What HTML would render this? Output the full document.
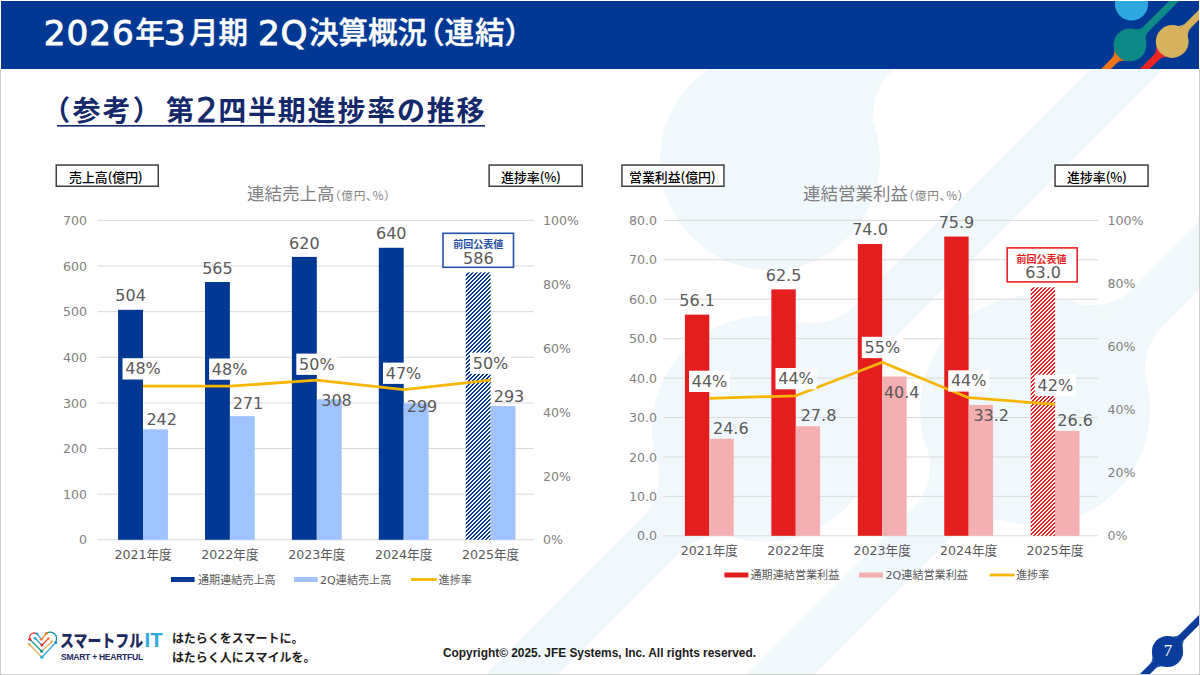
<!DOCTYPE html>
<html lang="ja"><head><meta charset="utf-8"><title>2026年3月期 2Q決算概況（連結）</title>
<style>
html,body{margin:0;padding:0;background:#fff;}
body{width:1200px;height:675px;position:relative;overflow:hidden;}
svg{position:absolute;left:0;top:0;display:block;}
</style></head><body>
<svg width="1200" height="675" viewBox="0 0 1200 675">
<defs>
<pattern id="hb" patternUnits="userSpaceOnUse" x="0" y="0" width="4" height="4"><rect width="4" height="4" fill="#fff"/><g fill="#003894" shape-rendering="crispEdges"><rect x="0" y="0" width="1" height="1"/><rect x="1" y="0" width="1" height="1"/><rect x="0" y="1" width="1" height="1"/><rect x="3" y="1" width="1" height="1"/><rect x="2" y="2" width="1" height="1"/><rect x="3" y="2" width="1" height="1"/><rect x="1" y="3" width="1" height="1"/><rect x="2" y="3" width="1" height="1"/></g></pattern>
<pattern id="hr" patternUnits="userSpaceOnUse" x="0" y="0" width="4" height="4"><rect width="4" height="4" fill="#fff"/><g fill="#E41E1E" shape-rendering="crispEdges"><rect x="0" y="0" width="1" height="1"/><rect x="1" y="0" width="1" height="1"/><rect x="0" y="1" width="1" height="1"/><rect x="3" y="1" width="1" height="1"/><rect x="2" y="2" width="1" height="1"/><rect x="3" y="2" width="1" height="1"/><rect x="1" y="3" width="1" height="1"/><rect x="2" y="3" width="1" height="1"/></g></pattern>
<clipPath id="hc"><rect x="1" y="1" width="1198" height="68"/></clipPath>
</defs>
<g fill="#F0F8FC"><polygon points="1091,69 1163,69 557,675 485,675"/><polygon points="1352,69 1420,69 814,675 746,675"/><polygon points="828,69 894,69 803,160 737,160"/><circle cx="770" cy="160" r="110"/><circle cx="765" cy="429" r="113"/><circle cx="1035" cy="410" r="115"/><path d="M879.9,155.9 Q862.5,100.5 889.1,73.9 L862.5,100.5 Z"/><path d="M774.1,50.1 Q829.5,67.5 856.1,40.9 L829.5,67.5 Z"/><path d="M877.9,425.5 Q861.6,370.4 888.8,343.2 L861.6,370.4 Z"/><path d="M769.2,316.1 Q826.1,333.9 853.4,306.6 L826.1,333.9 Z"/><path d="M761.5,541.9 Q706.4,525.6 679.2,552.8 L706.4,525.6 Z"/><path d="M652.1,433.2 Q669.9,490.1 642.6,517.4 L669.9,490.1 Z"/><path d="M1150.0,407.5 Q1135.3,353.7 1162.7,326.3 L1135.3,353.7 Z"/><path d="M1040.8,295.1 Q1103.4,317.6 1131.6,289.4 L1103.4,317.6 Z"/><path d="M1032.5,525.0 Q978.7,510.3 951.3,537.7 L978.7,510.3 Z"/><path d="M920.1,415.8 Q942.6,478.4 914.4,506.6 L942.6,478.4 Z"/></g><rect x="97.5" y="539.30" width="436.4" height="1" fill="#DADADA"/><text x="87.00" y="544.40" font-size="12.6" fill="#7F7F7F" font-family='"DejaVu Sans", "Noto Sans CJK JP", sans-serif' text-anchor="end" font-weight="normal">0</text><rect x="97.5" y="493.67" width="436.4" height="1" fill="#DADADA"/><text x="87.00" y="498.77" font-size="12.6" fill="#7F7F7F" font-family='"DejaVu Sans", "Noto Sans CJK JP", sans-serif' text-anchor="end" font-weight="normal">100</text><rect x="97.5" y="448.04" width="436.4" height="1" fill="#DADADA"/><text x="87.00" y="453.14" font-size="12.6" fill="#7F7F7F" font-family='"DejaVu Sans", "Noto Sans CJK JP", sans-serif' text-anchor="end" font-weight="normal">200</text><rect x="97.5" y="402.41" width="436.4" height="1" fill="#DADADA"/><text x="87.00" y="407.51" font-size="12.6" fill="#7F7F7F" font-family='"DejaVu Sans", "Noto Sans CJK JP", sans-serif' text-anchor="end" font-weight="normal">300</text><rect x="97.5" y="356.79" width="436.4" height="1" fill="#DADADA"/><text x="87.00" y="361.89" font-size="12.6" fill="#7F7F7F" font-family='"DejaVu Sans", "Noto Sans CJK JP", sans-serif' text-anchor="end" font-weight="normal">400</text><rect x="97.5" y="311.16" width="436.4" height="1" fill="#DADADA"/><text x="87.00" y="316.26" font-size="12.6" fill="#7F7F7F" font-family='"DejaVu Sans", "Noto Sans CJK JP", sans-serif' text-anchor="end" font-weight="normal">500</text><rect x="97.5" y="265.53" width="436.4" height="1" fill="#DADADA"/><text x="87.00" y="270.63" font-size="12.6" fill="#7F7F7F" font-family='"DejaVu Sans", "Noto Sans CJK JP", sans-serif' text-anchor="end" font-weight="normal">600</text><rect x="97.5" y="219.90" width="436.4" height="1" fill="#DADADA"/><text x="87.00" y="225.00" font-size="12.6" fill="#7F7F7F" font-family='"DejaVu Sans", "Noto Sans CJK JP", sans-serif' text-anchor="end" font-weight="normal">700</text><text x="543.00" y="544.40" font-size="12.6" fill="#7F7F7F" font-family='"DejaVu Sans", "Noto Sans CJK JP", sans-serif' text-anchor="start" font-weight="normal">0%</text><text x="543.00" y="480.52" font-size="12.6" fill="#7F7F7F" font-family='"DejaVu Sans", "Noto Sans CJK JP", sans-serif' text-anchor="start" font-weight="normal">20%</text><text x="543.00" y="416.64" font-size="12.6" fill="#7F7F7F" font-family='"DejaVu Sans", "Noto Sans CJK JP", sans-serif' text-anchor="start" font-weight="normal">40%</text><text x="543.00" y="352.76" font-size="12.6" fill="#7F7F7F" font-family='"DejaVu Sans", "Noto Sans CJK JP", sans-serif' text-anchor="start" font-weight="normal">60%</text><text x="543.00" y="288.88" font-size="12.6" fill="#7F7F7F" font-family='"DejaVu Sans", "Noto Sans CJK JP", sans-serif' text-anchor="start" font-weight="normal">80%</text><text x="543.00" y="225.00" font-size="12.6" fill="#7F7F7F" font-family='"DejaVu Sans", "Noto Sans CJK JP", sans-serif' text-anchor="start" font-weight="normal">100%</text><rect x="118.10" y="309.83" width="24.90" height="229.97" fill="#003894"/><rect x="143.00" y="429.38" width="24.90" height="110.42" fill="#9EC3FF"/><rect x="205.00" y="282.00" width="24.90" height="257.80" fill="#003894"/><rect x="229.90" y="416.15" width="24.90" height="123.65" fill="#9EC3FF"/><rect x="291.90" y="256.90" width="24.90" height="282.90" fill="#003894"/><rect x="316.80" y="399.26" width="24.90" height="140.54" fill="#9EC3FF"/><rect x="378.80" y="247.78" width="24.90" height="292.02" fill="#003894"/><rect x="403.70" y="403.37" width="24.90" height="136.43" fill="#9EC3FF"/><rect x="465.70" y="272.42" width="24.90" height="267.38" fill="url(#hb)"/><rect x="490.60" y="406.11" width="24.90" height="133.69" fill="#9EC3FF"/><polyline points="143.0,386.2 229.9,386.2 316.8,380.1 403.7,389.7 490.6,380.1" fill="none" stroke="#F7B500" stroke-width="2.8" stroke-linejoin="round"/><text x="130.55" y="301.43" font-size="16" fill="#595959" font-family='"DejaVu Sans", "Noto Sans CJK JP", sans-serif' text-anchor="middle" font-weight="normal">504</text><text x="217.45" y="273.60" font-size="16" fill="#595959" font-family='"DejaVu Sans", "Noto Sans CJK JP", sans-serif' text-anchor="middle" font-weight="normal">565</text><text x="304.35" y="248.50" font-size="16" fill="#595959" font-family='"DejaVu Sans", "Noto Sans CJK JP", sans-serif' text-anchor="middle" font-weight="normal">620</text><text x="391.25" y="239.38" font-size="16" fill="#595959" font-family='"DejaVu Sans", "Noto Sans CJK JP", sans-serif' text-anchor="middle" font-weight="normal">640</text><text x="161.70" y="424.70" font-size="16" fill="#595959" font-family='"DejaVu Sans", "Noto Sans CJK JP", sans-serif' text-anchor="middle" font-weight="normal">242</text><text x="247.90" y="409.20" font-size="16" fill="#595959" font-family='"DejaVu Sans", "Noto Sans CJK JP", sans-serif' text-anchor="middle" font-weight="normal">271</text><text x="336.50" y="406.40" font-size="16" fill="#595959" font-family='"DejaVu Sans", "Noto Sans CJK JP", sans-serif' text-anchor="middle" font-weight="normal">308</text><text x="422.00" y="412.00" font-size="16" fill="#595959" font-family='"DejaVu Sans", "Noto Sans CJK JP", sans-serif' text-anchor="middle" font-weight="normal">299</text><text x="509.00" y="402.40" font-size="16" fill="#595959" font-family='"DejaVu Sans", "Noto Sans CJK JP", sans-serif' text-anchor="middle" font-weight="normal">293</text><rect x="122.5" y="358.2" width="41" height="21.3" fill="#fff"/><text x="143.00" y="374.20" font-size="16" fill="#595959" font-family='"DejaVu Sans", "Noto Sans CJK JP", sans-serif' text-anchor="middle" font-weight="normal">48%</text><rect x="209.1" y="358.5" width="41" height="21.3" fill="#fff"/><text x="229.60" y="374.50" font-size="16" fill="#595959" font-family='"DejaVu Sans", "Noto Sans CJK JP", sans-serif' text-anchor="middle" font-weight="normal">48%</text><rect x="296.3" y="353.6" width="41" height="21.3" fill="#fff"/><text x="316.80" y="369.60" font-size="16" fill="#595959" font-family='"DejaVu Sans", "Noto Sans CJK JP", sans-serif' text-anchor="middle" font-weight="normal">50%</text><rect x="383.0" y="362.6" width="41" height="21.3" fill="#fff"/><text x="403.50" y="378.60" font-size="16" fill="#595959" font-family='"DejaVu Sans", "Noto Sans CJK JP", sans-serif' text-anchor="middle" font-weight="normal">47%</text><rect x="470.0" y="352.6" width="41" height="21.3" fill="#fff"/><text x="490.50" y="368.60" font-size="16" fill="#595959" font-family='"DejaVu Sans", "Noto Sans CJK JP", sans-serif' text-anchor="middle" font-weight="normal">50%</text><text x="143.00" y="559.10" font-size="12.6" fill="#595959" font-family='"DejaVu Sans", "Noto Sans CJK JP", sans-serif' text-anchor="middle" font-weight="normal">2021年度</text><text x="229.90" y="559.10" font-size="12.6" fill="#595959" font-family='"DejaVu Sans", "Noto Sans CJK JP", sans-serif' text-anchor="middle" font-weight="normal">2022年度</text><text x="316.80" y="559.10" font-size="12.6" fill="#595959" font-family='"DejaVu Sans", "Noto Sans CJK JP", sans-serif' text-anchor="middle" font-weight="normal">2023年度</text><text x="403.70" y="559.10" font-size="12.6" fill="#595959" font-family='"DejaVu Sans", "Noto Sans CJK JP", sans-serif' text-anchor="middle" font-weight="normal">2024年度</text><text x="490.60" y="559.10" font-size="12.6" fill="#595959" font-family='"DejaVu Sans", "Noto Sans CJK JP", sans-serif' text-anchor="middle" font-weight="normal">2025年度</text><rect x="663.5" y="535.30" width="434.8" height="1" fill="#DADADA"/><text x="657.00" y="540.40" font-size="12.6" fill="#7F7F7F" font-family='"DejaVu Sans", "Noto Sans CJK JP", sans-serif' text-anchor="end" font-weight="normal">0.0</text><rect x="663.5" y="495.87" width="434.8" height="1" fill="#DADADA"/><text x="657.00" y="500.97" font-size="12.6" fill="#7F7F7F" font-family='"DejaVu Sans", "Noto Sans CJK JP", sans-serif' text-anchor="end" font-weight="normal">10.0</text><rect x="663.5" y="456.45" width="434.8" height="1" fill="#DADADA"/><text x="657.00" y="461.55" font-size="12.6" fill="#7F7F7F" font-family='"DejaVu Sans", "Noto Sans CJK JP", sans-serif' text-anchor="end" font-weight="normal">20.0</text><rect x="663.5" y="417.02" width="434.8" height="1" fill="#DADADA"/><text x="657.00" y="422.12" font-size="12.6" fill="#7F7F7F" font-family='"DejaVu Sans", "Noto Sans CJK JP", sans-serif' text-anchor="end" font-weight="normal">30.0</text><rect x="663.5" y="377.60" width="434.8" height="1" fill="#DADADA"/><text x="657.00" y="382.70" font-size="12.6" fill="#7F7F7F" font-family='"DejaVu Sans", "Noto Sans CJK JP", sans-serif' text-anchor="end" font-weight="normal">40.0</text><rect x="663.5" y="338.17" width="434.8" height="1" fill="#DADADA"/><text x="657.00" y="343.27" font-size="12.6" fill="#7F7F7F" font-family='"DejaVu Sans", "Noto Sans CJK JP", sans-serif' text-anchor="end" font-weight="normal">50.0</text><rect x="663.5" y="298.75" width="434.8" height="1" fill="#DADADA"/><text x="657.00" y="303.85" font-size="12.6" fill="#7F7F7F" font-family='"DejaVu Sans", "Noto Sans CJK JP", sans-serif' text-anchor="end" font-weight="normal">60.0</text><rect x="663.5" y="259.32" width="434.8" height="1" fill="#DADADA"/><text x="657.00" y="264.43" font-size="12.6" fill="#7F7F7F" font-family='"DejaVu Sans", "Noto Sans CJK JP", sans-serif' text-anchor="end" font-weight="normal">70.0</text><rect x="663.5" y="219.90" width="434.8" height="1" fill="#DADADA"/><text x="657.00" y="225.00" font-size="12.6" fill="#7F7F7F" font-family='"DejaVu Sans", "Noto Sans CJK JP", sans-serif' text-anchor="end" font-weight="normal">80.0</text><text x="1107.50" y="540.40" font-size="12.6" fill="#7F7F7F" font-family='"DejaVu Sans", "Noto Sans CJK JP", sans-serif' text-anchor="start" font-weight="normal">0%</text><text x="1107.50" y="477.32" font-size="12.6" fill="#7F7F7F" font-family='"DejaVu Sans", "Noto Sans CJK JP", sans-serif' text-anchor="start" font-weight="normal">20%</text><text x="1107.50" y="414.24" font-size="12.6" fill="#7F7F7F" font-family='"DejaVu Sans", "Noto Sans CJK JP", sans-serif' text-anchor="start" font-weight="normal">40%</text><text x="1107.50" y="351.16" font-size="12.6" fill="#7F7F7F" font-family='"DejaVu Sans", "Noto Sans CJK JP", sans-serif' text-anchor="start" font-weight="normal">60%</text><text x="1107.50" y="288.08" font-size="12.6" fill="#7F7F7F" font-family='"DejaVu Sans", "Noto Sans CJK JP", sans-serif' text-anchor="start" font-weight="normal">80%</text><text x="1107.50" y="225.00" font-size="12.6" fill="#7F7F7F" font-family='"DejaVu Sans", "Noto Sans CJK JP", sans-serif' text-anchor="start" font-weight="normal">100%</text><rect x="684.90" y="314.63" width="24.40" height="221.17" fill="#E41E1E"/><rect x="709.30" y="438.81" width="24.40" height="96.99" fill="#F4B0B0"/><rect x="771.35" y="289.39" width="24.40" height="246.41" fill="#E41E1E"/><rect x="795.75" y="426.20" width="24.40" height="109.60" fill="#F4B0B0"/><rect x="857.80" y="244.05" width="24.40" height="291.75" fill="#E41E1E"/><rect x="882.20" y="376.52" width="24.40" height="159.28" fill="#F4B0B0"/><rect x="944.25" y="236.56" width="24.40" height="299.24" fill="#E41E1E"/><rect x="968.65" y="404.91" width="24.40" height="130.89" fill="#F4B0B0"/><rect x="1030.70" y="287.42" width="24.40" height="248.38" fill="url(#hr)"/><rect x="1055.10" y="430.93" width="24.40" height="104.87" fill="#F4B0B0"/><polyline points="709.3,398.3 795.8,395.8 882.2,362.3 968.6,397.7 1055.1,404.3" fill="none" stroke="#F7B500" stroke-width="2.8" stroke-linejoin="round"/><text x="697.10" y="305.83" font-size="16" fill="#595959" font-family='"DejaVu Sans", "Noto Sans CJK JP", sans-serif' text-anchor="middle" font-weight="normal">56.1</text><text x="783.55" y="280.59" font-size="16" fill="#595959" font-family='"DejaVu Sans", "Noto Sans CJK JP", sans-serif' text-anchor="middle" font-weight="normal">62.5</text><text x="870.00" y="235.25" font-size="16" fill="#595959" font-family='"DejaVu Sans", "Noto Sans CJK JP", sans-serif' text-anchor="middle" font-weight="normal">74.0</text><text x="956.45" y="227.76" font-size="16" fill="#595959" font-family='"DejaVu Sans", "Noto Sans CJK JP", sans-serif' text-anchor="middle" font-weight="normal">75.9</text><text x="730.80" y="433.50" font-size="16" fill="#595959" font-family='"DejaVu Sans", "Noto Sans CJK JP", sans-serif' text-anchor="middle" font-weight="normal">24.6</text><text x="818.50" y="420.70" font-size="16" fill="#595959" font-family='"DejaVu Sans", "Noto Sans CJK JP", sans-serif' text-anchor="middle" font-weight="normal">27.8</text><text x="901.70" y="398.30" font-size="16" fill="#595959" font-family='"DejaVu Sans", "Noto Sans CJK JP", sans-serif' text-anchor="middle" font-weight="normal">40.4</text><text x="991.20" y="420.60" font-size="16" fill="#595959" font-family='"DejaVu Sans", "Noto Sans CJK JP", sans-serif' text-anchor="middle" font-weight="normal">33.2</text><text x="1075.10" y="426.40" font-size="16" fill="#595959" font-family='"DejaVu Sans", "Noto Sans CJK JP", sans-serif' text-anchor="middle" font-weight="normal">26.6</text><rect x="689.0" y="370.7" width="41" height="21.3" fill="#fff"/><text x="709.50" y="386.70" font-size="16" fill="#595959" font-family='"DejaVu Sans", "Noto Sans CJK JP", sans-serif' text-anchor="middle" font-weight="normal">44%</text><rect x="775.5" y="368.0" width="41" height="21.3" fill="#fff"/><text x="796.00" y="384.00" font-size="16" fill="#595959" font-family='"DejaVu Sans", "Noto Sans CJK JP", sans-serif' text-anchor="middle" font-weight="normal">44%</text><rect x="861.8" y="336.8" width="41" height="21.3" fill="#fff"/><text x="882.30" y="352.80" font-size="16" fill="#595959" font-family='"DejaVu Sans", "Noto Sans CJK JP", sans-serif' text-anchor="middle" font-weight="normal">55%</text><rect x="948.2" y="370.3" width="41" height="21.3" fill="#fff"/><text x="968.70" y="386.30" font-size="16" fill="#595959" font-family='"DejaVu Sans", "Noto Sans CJK JP", sans-serif' text-anchor="middle" font-weight="normal">44%</text><rect x="1034.8" y="374.7" width="41" height="21.3" fill="#fff"/><text x="1055.30" y="390.70" font-size="16" fill="#595959" font-family='"DejaVu Sans", "Noto Sans CJK JP", sans-serif' text-anchor="middle" font-weight="normal">42%</text><text x="709.30" y="555.10" font-size="12.6" fill="#595959" font-family='"DejaVu Sans", "Noto Sans CJK JP", sans-serif' text-anchor="middle" font-weight="normal">2021年度</text><text x="795.75" y="555.10" font-size="12.6" fill="#595959" font-family='"DejaVu Sans", "Noto Sans CJK JP", sans-serif' text-anchor="middle" font-weight="normal">2022年度</text><text x="882.20" y="555.10" font-size="12.6" fill="#595959" font-family='"DejaVu Sans", "Noto Sans CJK JP", sans-serif' text-anchor="middle" font-weight="normal">2023年度</text><text x="968.65" y="555.10" font-size="12.6" fill="#595959" font-family='"DejaVu Sans", "Noto Sans CJK JP", sans-serif' text-anchor="middle" font-weight="normal">2024年度</text><text x="1055.10" y="555.10" font-size="12.6" fill="#595959" font-family='"DejaVu Sans", "Noto Sans CJK JP", sans-serif' text-anchor="middle" font-weight="normal">2025年度</text><text x="247" y="199.5" font-family='"Noto Sans CJK JP", sans-serif' fill="#7F7F7F"><tspan font-size="17.5">連結売上高</tspan><tspan font-size="11.7" letter-spacing="0.8" style="font-feature-settings:'palt'">（億円、%）</tspan></text><text x="803" y="199.5" font-family='"Noto Sans CJK JP", sans-serif' fill="#7F7F7F"><tspan font-size="17.5">連結営業利益</tspan><tspan font-size="11.7" letter-spacing="0.8" style="font-feature-settings:'palt'">（億円、%）</tspan></text><rect x="56.25" y="165.05" width="102.0" height="21.2" fill="#fff" stroke="#3F3F3F" stroke-width="1.5"/><text x="69.00" y="181.60" font-size="12.9" fill="#000" font-family='"Noto Sans CJK JP", sans-serif' text-anchor="start" font-weight="500">売上高(億円)</text><rect x="489.15" y="165.05" width="93.0" height="21.2" fill="#fff" stroke="#3F3F3F" stroke-width="1.5"/><text x="501.00" y="181.60" font-size="12.9" fill="#000" font-family='"Noto Sans CJK JP", sans-serif' text-anchor="start" font-weight="500">進捗率(%)</text><rect x="621.95" y="165.05" width="102.0" height="21.2" fill="#fff" stroke="#3F3F3F" stroke-width="1.5"/><text x="629.00" y="181.60" font-size="12.9" fill="#000" font-family='"Noto Sans CJK JP", sans-serif' text-anchor="start" font-weight="500">営業利益(億円)</text><rect x="1055.05" y="165.05" width="93.0" height="21.2" fill="#fff" stroke="#3F3F3F" stroke-width="1.5"/><text x="1067.00" y="181.60" font-size="12.9" fill="#000" font-family='"Noto Sans CJK JP", sans-serif' text-anchor="start" font-weight="500">進捗率(%)</text><rect x="443" y="233.3" width="70.5" height="34" fill="#fff" stroke="#2150A8" stroke-width="1.6"/><text x="478.30" y="248.30" font-size="10" fill="#1F4E9E" font-family='"Noto Sans CJK JP", sans-serif' text-anchor="middle" font-weight="bold">前回公表値</text><text x="478.30" y="263.50" font-size="16" fill="#595959" font-family='"DejaVu Sans", "Noto Sans CJK JP", sans-serif' text-anchor="middle" font-weight="normal">586</text><rect x="1007.2" y="247.9" width="70" height="34" fill="#fff" stroke="#EE2222" stroke-width="1.6"/><text x="1041.50" y="263.00" font-size="10" fill="#E81B1B" font-family='"Noto Sans CJK JP", sans-serif' text-anchor="middle" font-weight="bold">前回公表値</text><text x="1043.10" y="278.20" font-size="16" fill="#595959" font-family='"DejaVu Sans", "Noto Sans CJK JP", sans-serif' text-anchor="middle" font-weight="normal">63.0</text><rect x="171" y="577.0" width="23.6" height="5" fill="#003894"/><text x="198.00" y="583.50" font-size="11.1" fill="#595959" font-family='"DejaVu Sans", "Noto Sans CJK JP", sans-serif' text-anchor="start" font-weight="normal">通期連結売上高</text><rect x="294" y="577.0" width="23.7" height="5" fill="#9EC3FF"/><text x="320.00" y="583.50" font-size="11.1" fill="#595959" font-family='"DejaVu Sans", "Noto Sans CJK JP", sans-serif' text-anchor="start" font-weight="normal">2Q連結売上高</text><rect x="411" y="578.1" width="25.7" height="2.8" fill="#F7B500"/><text x="438.60" y="583.50" font-size="11.1" fill="#595959" font-family='"DejaVu Sans", "Noto Sans CJK JP", sans-serif' text-anchor="start" font-weight="normal">進捗率</text><rect x="724.4" y="572.5" width="24.0" height="5" fill="#E41E1E"/><text x="750.50" y="579.00" font-size="11.1" fill="#595959" font-family='"DejaVu Sans", "Noto Sans CJK JP", sans-serif' text-anchor="start" font-weight="normal">通期連結営業利益</text><rect x="859" y="572.5" width="24.0" height="5" fill="#F4B0B0"/><text x="885.50" y="579.00" font-size="11.1" fill="#595959" font-family='"DejaVu Sans", "Noto Sans CJK JP", sans-serif' text-anchor="start" font-weight="normal">2Q連結営業利益</text><rect x="989.6" y="573.6" width="24.9" height="2.8" fill="#F7B500"/><text x="1016.00" y="579.00" font-size="11.1" fill="#595959" font-family='"DejaVu Sans", "Noto Sans CJK JP", sans-serif' text-anchor="start" font-weight="normal">進捗率</text>
<rect x="1" y="1" width="1198" height="68" fill="#003894"/><g clip-path="url(#hc)">
<line x1="1090" y1="85" x2="1130" y2="45" stroke="#F07418" stroke-width="7"/>
<line x1="1130" y1="45" x2="1180" y2="-5" stroke="#0E8A86" stroke-width="7"/>
<line x1="1127.2" y1="86.5" x2="1172.2" y2="41.5" stroke="#EE2524" stroke-width="7"/>
<line x1="1172.2" y1="41.5" x2="1215" y2="-1.3" stroke="#D6B25E" stroke-width="7"/>
<g fill="#F07418"><path d="M1130.5,61.3 Q1121.1,58.7 1116.0,63.8 L1121.1,58.7 Z"/><path d="M1113.6,44.4 Q1116.2,53.8 1111.1,58.9 L1116.2,53.8 Z"/></g>
<g fill="#0E8A86"><path d="M1146.4,45.4 Q1143.8,36.0 1148.9,30.9 L1143.8,36.0 Z"/><path d="M1129.5,28.5 Q1138.9,31.1 1144.0,26.0 L1138.9,31.1 Z"/></g>
<g fill="#EE2524"><path d="M1172.7,57.9 Q1163.3,55.3 1158.2,60.4 L1163.3,55.3 Z"/><path d="M1155.8,41.0 Q1158.4,50.4 1153.3,55.5 L1158.4,50.4 Z"/></g>
<g fill="#D6B25E"><path d="M1188.6,42.0 Q1186.0,32.6 1191.1,27.5 L1186.0,32.6 Z"/><path d="M1171.7,25.1 Q1181.1,27.7 1186.2,22.6 L1181.1,27.7 Z"/></g>
<circle cx="1131.5" cy="4" r="16.6" fill="#2EA9E0"/>
<circle cx="1130" cy="44.9" r="16.4" fill="#0E8A86"/>
<circle cx="1172.2" cy="41.5" r="16.4" fill="#D6B25E"/>
</g><g fill="#FFFFFF"><text x="43.8" y="44.6" font-family='"DejaVu Sans", sans-serif' font-size="34.3" letter-spacing="0.9" stroke="#FFFFFF" stroke-width="0.9">2026</text><text x="135.2" y="43.2" font-family='"Noto Sans CJK JP", sans-serif' font-size="29.5" font-weight="500" stroke="#fff" stroke-width="0.45">年</text><text x="163.7" y="44.6" font-family='"DejaVu Sans", sans-serif' font-size="34.3" stroke="#FFFFFF" stroke-width="0.9">3</text><text x="189" y="43.2" font-family='"Noto Sans CJK JP", sans-serif' font-size="29.5" font-weight="500" stroke="#fff" stroke-width="0.45">月期</text><text x="258" y="44.6" font-family='"DejaVu Sans", sans-serif' font-size="34.3" letter-spacing="0.6" stroke="#FFFFFF" stroke-width="0.9">2Q</text><text x="309" y="43.2" font-family='"Noto Sans CJK JP", sans-serif' font-size="29.5" font-weight="500" stroke="#fff" stroke-width="0.45">決算概況</text><text x="428.8" y="43.2" font-family='"Noto Sans CJK JP", sans-serif' font-size="29.5" font-weight="500" stroke="#fff" stroke-width="0.45" letter-spacing="1" style="font-feature-settings:'palt'">（連結）</text></g>
<g fill="#14296B"><text x="42.2" y="121.2" font-family='"Noto Sans CJK JP", sans-serif' font-size="28" font-weight="bold" letter-spacing="2.2">（参考）</text><text x="166" y="121.2" font-family='"Noto Sans CJK JP", sans-serif' font-size="28" font-weight="bold">第</text><text x="196.2" y="121.7" font-family='"DejaVu Sans", sans-serif' font-size="33" stroke="#14296B" stroke-width="0.8">2</text><text x="218.2" y="121.2" font-family='"Noto Sans CJK JP", sans-serif' font-size="28" font-weight="bold" letter-spacing="1.8">四半期進捗率の推移</text><rect x="57" y="125" width="428" height="1.6"/></g>

<line x1="1135" y1="684" x2="1210" y2="609" stroke="#0A3D9B" stroke-width="7.2"/>
<g fill="#0A3D9B"><path d="M1183.1,652.1 Q1180.8,643.3 1185.6,638.5 L1180.8,643.3 Z"/><path d="M1166.9,635.9 Q1175.7,638.2 1180.5,633.4 L1175.7,638.2 Z"/></g>
<g fill="#0A3D9B"><path d="M1168.1,667.1 Q1159.3,664.8 1154.5,669.6 L1159.3,664.8 Z"/><path d="M1151.9,650.9 Q1154.2,659.7 1149.4,664.5 L1154.2,659.7 Z"/></g>
<circle cx="1167.5" cy="651.5" r="15.6" fill="#0A3D9B"/>
<text x="1168" y="655.5" font-size="17" fill="#fff" font-family='"Liberation Serif", serif' text-anchor="middle">7</text>

<g fill="none" stroke-width="1.25" stroke-linecap="round" stroke-linejoin="round">
<path d="M29.8,639.3 Q28.6,633.4 34.5,632.9 L37.1,633.8" stroke="#E8312F"/>
<path d="M37.1,633.8 L41.4,639.3" stroke="#29A8E0"/>
<path d="M41.4,639.3 L46.4,633.5" stroke="#F0802A"/>
<path d="M46.4,633.5 Q49,631.8 52,632.4 Q58.5,634.5 55.7,642.6" stroke="#17918F"/>
<path d="M55.7,642.6 L41.9,657.2" stroke="#29A8E0"/>
<path d="M41.9,657.2 L29.3,644.4" stroke="#E0B050"/>
<path d="M29.8,639.3 L41.6,651.2" stroke="#17918F"/>
<path d="M41.6,651.2 L51.7,641.6" stroke="#E0B050"/>
<path d="M35.1,638.3 L41.9,645.1" stroke="#3A8FD8"/>
<path d="M41.9,645.1 L48.4,638.6" stroke="#E8312F"/>
</g>
<g>
<circle cx="29.8" cy="639.3" r="1.5" fill="#E8312F"/><circle cx="37.1" cy="633.8" r="1.4" fill="#29A8E0"/>
<circle cx="41.4" cy="639.3" r="1.4" fill="#F0802A"/><circle cx="46.4" cy="633.5" r="1.4" fill="#F0802A"/>
<circle cx="55.7" cy="642.6" r="1.5" fill="#1B8FB8"/><circle cx="41.9" cy="657.2" r="1.6" fill="#29A8E0"/>
<circle cx="29.3" cy="644.4" r="1.4" fill="#EAA04A"/><circle cx="41.6" cy="651.2" r="1.5" fill="#17918F"/>
<circle cx="51.7" cy="641.6" r="1.3" fill="#E0B050"/><circle cx="35.1" cy="638.3" r="1.4" fill="#29A8E0"/>
<circle cx="41.9" cy="645.1" r="1.5" fill="#E8312F"/><circle cx="48.4" cy="638.6" r="1.4" fill="#F0802A"/>
</g>

<text transform="translate(60,647) scale(0.82,1)" x="0" y="0" font-family='"Noto Sans CJK JP", sans-serif' font-size="17" font-weight="900" fill="#1D2A5E">スマートフル</text>
<text x="144.6" y="647" font-family='"Liberation Sans", sans-serif' font-size="20.5" font-weight="bold" fill="#2EA9E0">IT</text>
<text x="61" y="660" font-family='"Liberation Sans", sans-serif' font-size="8.6" font-weight="bold" fill="#1D2A5E" letter-spacing="-0.3">SMART + HEARTFUL</text>
<text x="172" y="643" font-family='"Noto Sans CJK JP", sans-serif' font-size="12" font-weight="bold" fill="#1a1a1a">はたらくをスマートに。</text>
<text x="172" y="662" font-family='"Noto Sans CJK JP", sans-serif' font-size="12" font-weight="bold" fill="#1a1a1a">はたらく人にスマイルを。</text>
<text x="443" y="656.8" font-family='"Liberation Sans", sans-serif' font-size="11.9" font-weight="bold" fill="#1a1a1a">Copyright© 2025. JFE Systems, Inc. All rights reserved.</text>

<rect x="0" y="69" width="1" height="606" fill="#D0D0D0"/><rect x="1199" y="69" width="1" height="606" fill="#D0D0D0"/><rect x="0" y="674" width="1200" height="1" fill="#D0D0D0"/>
</svg>
</body></html>
